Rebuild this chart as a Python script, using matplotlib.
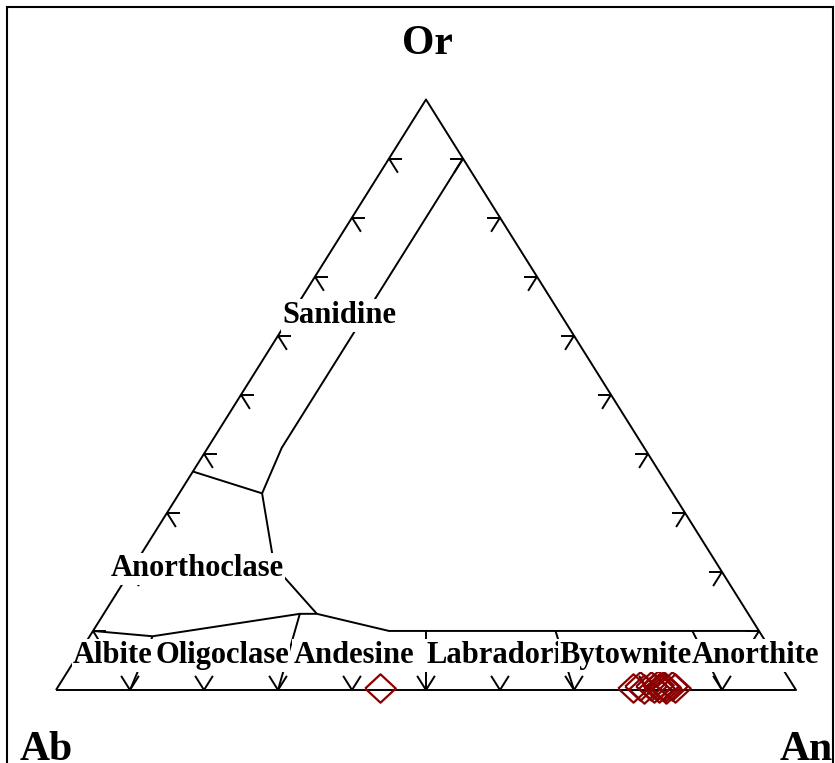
import numpy as np
import matplotlib
matplotlib.use("Agg")
import matplotlib.pyplot as plt

# ---- data (compositions in %, order Ab, An, Or) ----
tick_steps = [10, 20, 30, 40, 50, 60, 70, 80, 90]

# sanidine / anorthoclase boundary
san_ab = [0, 49, 55.5, 63]
san_an = [10, 10, 11.2, 0]
san_or = [90, 41, 33.3, 37]

# anorthoclase / plagioclase boundary (right arm)
ano_ab = [55.5, 60, 58.3]
ano_an = [11.2, 19, 28.8]
ano_or = [33.3, 21, 12.9]

# plagioclase upper boundary
plag_ab = [90, 82.4, 60.6, 58.3, 50, 0]
plag_an = [0, 8.5, 26.5, 28.8, 40, 90]
plag_or = [10, 9.1, 12.9, 12.9, 10, 10]

# plagioclase division lines (top end -> Ab-An join)
div_top_ab = [82.4, 60.6, 45, 27.5, 9]
div_top_an = [8.5, 26.5, 45, 62.5, 81]
div_top_or = [9.1, 12.9, 10, 10, 10]
div_bot_an = [10, 30, 50, 70, 90]

# analysed feldspars
smp_an = [43.6, 77.8, 78.6, 79.4, 80.1, 80.6, 81.0, 81.3, 81.7, 82.0, 82.4, 82.9, 83.5]
smp_or = [0.4, 0.3, 0.6, 0.2, 0.7, 0.4, 0.8, 0.3, 0.6, 0.5, 0.2, 0.7, 0.4]
smp_ab = [100 - a - o for a, o in zip(smp_an, smp_or)]

plag_names = ["Albite", "Oligoclase", "Andesine", "Labradorite", "Bytownite", "Anorthite"]

H = np.sqrt(3) / 2


def tern(ab, an, orr):
    ab, an, orr = np.asarray(ab, float), np.asarray(an, float), np.asarray(orr, float)
    s = ab + an + orr
    return (an + 0.5 * orr) / s, H * orr / s


# pixel -> data helper for text placement (triangle: Ab(56,690) An(796,690) Or apex y=99.5)
def px(x, y):
    return (x - 56) / 740.0, (690 - y) / 590.5 * H


fig = plt.figure(figsize=(8.35, 7.63), dpi=100)
ax = fig.add_axes([0, 0, 1, 1])
ax.set_xlim(px(0, 0)[0], px(835, 0)[0])
ax.set_ylim(px(0, 763)[1], px(0, 0)[1])
ax.axis("off")

lw = 1.4
k = dict(color="black", lw=lw, solid_capstyle="butt", zorder=2)

# triangle
tx, ty = tern([100, 0, 0, 100], [0, 100, 0, 0], [0, 0, 100, 0])
ax.plot(tx, ty, **k)

# field boundaries
ax.plot(*tern(san_ab, san_an, san_or), **k)
ax.plot(*tern(ano_ab, ano_an, ano_or), **k)
ax.plot(*tern(plag_ab, plag_an, plag_or), **k)
for a, b, c, d in zip(div_top_ab, div_top_an, div_top_or, div_bot_an):
    x0, y0 = tern(a, b, c)
    x1, y1 = tern(100 - d, d, 0)
    ax.plot([x0, x1], [y0, y1], **k)

# arrow-like ticks
hl, dl = 1.8, 2.4
for t in tick_steps:
    # bottom (Ab-An)
    for dab, dan, dor in [(-dl, 0, dl), (0, -dl, dl)]:
        ax.plot(*tern([100 - t, 100 - t + dab], [t, t + dan], [0, dor]), **k)
    # left (Ab-Or)
    for dab, dan, dor in [(-hl, hl, 0), (0, dl, -dl)]:
        ax.plot(*tern([100 - t, 100 - t + dab], [0, dan], [t, t + dor]), **k)
    # right (An-Or)
    for dab, dan, dor in [(hl, -hl, 0), (dl, 0, -dl)]:
        ax.plot(*tern([0, dab], [100 - t, 100 - t + dan], [t, t + dor]), **k)

# samples
dmd = [(-1, 0), (0, -0.93), (1, 0), (0, 0.93), (-1, 0)]
sx, sy = tern(smp_ab, smp_an, smp_or)
ax.plot(sx, sy, ls="none", marker=dmd, ms=22, mfc="none", mec="#8b0000", mew=1.6, zorder=3)

# labels
serif = ["Liberation Serif", "DejaVu Serif"]
box = dict(facecolor="white", edgecolor="none", pad=1.0)
fs = 22
ax.text(*px(339.7, 323), "Sanidine", fontsize=fs, family=serif, weight="bold",
        ha="center", va="baseline", bbox=box, zorder=4)
ax.text(*px(197, 576.5), "Anorthoclase", fontsize=fs, family=serif, weight="bold",
        ha="center", va="baseline", bbox=box, zorder=4)
plag_x = [113, 222, 354, 506, 626, 756]
for name, xp in zip(plag_names, plag_x):
    ax.text(*px(xp, 663), name, fontsize=fs, family=serif, weight="bold",
            ha="center", va="baseline", bbox=box, zorder=4)

ax.text(*px(427, 54), "Or", fontsize=30, family=serif, weight="bold", ha="center", va="baseline")
ax.text(*px(20, 760), "Ab", fontsize=30, family=serif, weight="bold", ha="left", va="baseline")
ax.text(*px(780, 760), "An", fontsize=30, family=serif, weight="bold", ha="left", va="baseline")

# outer frame
fig.patches.append(plt.Rectangle((7 / 835, -0.05), (833 - 7) / 835, 1 - 7 / 763 + 0.05,
                                 transform=fig.transFigure, fill=False, lw=1.5, ec="black"))

fig.savefig("out.png", dpi=100)
